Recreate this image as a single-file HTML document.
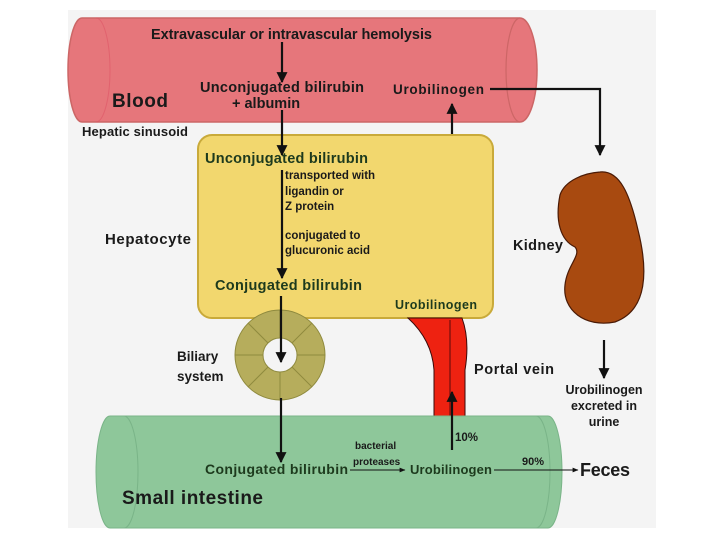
<!DOCTYPE html>
<html><head><meta charset="utf-8"><style>
html,body{margin:0;padding:0;background:#fff}
svg{display:block}
text{font-family:"Liberation Sans",sans-serif;font-weight:bold;fill:#1a1a1a}
.g{fill:#1d3a1d}
</style></head><body>
<svg width="720" height="540" viewBox="0 0 720 540" xmlns="http://www.w3.org/2000/svg">
<defs><marker id="a" viewBox="0 0 10 10" refX="9" refY="5" markerWidth="5" markerHeight="5" orient="auto"><path d="M0,0L10,5L0,10z" fill="#111"/></marker>
<marker id="s" viewBox="0 0 10 10" refX="9" refY="5" markerWidth="6" markerHeight="6" orient="auto"><path d="M0,1L10,5L0,9z" fill="#111"/></marker></defs>
<rect x="68" y="10" width="588" height="518" fill="#f4f4f4"/>
<path d="M82,18 H520 A17,52 0 0 1 520,122 H82 A14,52 0 0 1 82,18z" fill="#e6767b" stroke="#c66" stroke-width="1.5"/>
<path d="M520,18 A14,52 0 0 0 520,122" fill="none" stroke="#c66" stroke-width="1.2"/>
<path d="M96,18 A14,52 0 0 1 96,122" fill="none" stroke="#d56" stroke-width="1" opacity=".6"/>
<rect x="198" y="135" width="295" height="183" rx="14" fill="#f2d76e" stroke="#c9aa3a" stroke-width="2"/>
<path d="M408,318 H462 Q470,340 465,370 V418 H434 V370 Q432,340 408,318z" fill="#ee2211" stroke="#3a0a0a" stroke-width="1"/>
<line x1="450" y1="320" x2="450" y2="418" stroke="#5a0a0a" stroke-width="1"/>
<path d="M110,416 H548 A14,56 0 0 1 548,528 H110 A14,56 0 0 1 110,416z" fill="#8ec79a" stroke="#7ab488" stroke-width="1"/>
<path d="M124,416 A14,56 0 0 1 124,528" fill="none" stroke="#7ab488" stroke-width="1"/>
<path d="M536,416 A14,56 0 0 1 536,528" fill="none" stroke="#7ab488" stroke-width="1"/>
<circle cx="280" cy="355" r="31" fill="none" stroke="#b6ad5c" stroke-width="28"/>
<circle cx="280" cy="355" r="45" fill="none" stroke="#8f8a3e" stroke-width="1"/>
<circle cx="280" cy="355" r="17" fill="#f4f4f4" stroke="#8f8a3e" stroke-width="1"/>
<g stroke="#8f8a3e" stroke-width="1">
<line x1="280" y1="338" x2="280" y2="310"/><line x1="280" y1="372" x2="280" y2="400"/>
<line x1="263" y1="355" x2="235" y2="355"/><line x1="297" y1="355" x2="325" y2="355"/>
<line x1="292" y1="343" x2="312" y2="323"/><line x1="268" y1="343" x2="248" y2="323"/>
<line x1="292" y1="367" x2="312" y2="387"/><line x1="268" y1="367" x2="248" y2="387"/></g>
<path d="M600,172 C620,170 630,195 638,230 C648,270 648,310 615,322 C585,328 562,310 565,285 C567,265 582,255 575,247 C560,240 555,220 560,195 C565,180 585,173 600,172z" fill="#a84a10" stroke="#4a1a05" stroke-width="1.2"/>
<g stroke="#111" stroke-width="2.2" fill="none">
<line x1="282" y1="42" x2="282" y2="82" marker-end="url(#a)"/>
<line x1="282" y1="110" x2="282" y2="155" marker-end="url(#a)"/>
<line x1="282" y1="170" x2="282" y2="278" marker-end="url(#a)"/>
<line x1="281" y1="296" x2="281" y2="362" marker-end="url(#a)"/>
<line x1="281" y1="398" x2="281" y2="462" marker-end="url(#a)"/>
<line x1="452" y1="134" x2="452" y2="104" marker-end="url(#a)"/>
<polyline points="490,89 600,89 600,155" marker-end="url(#a)"/>
<line x1="604" y1="340" x2="604" y2="378" marker-end="url(#a)"/>
<line x1="452" y1="450" x2="452" y2="392" marker-end="url(#a)"/>
</g>
<g stroke="#111" stroke-width="1" fill="none">
<line x1="350" y1="470" x2="405" y2="470" marker-end="url(#s)"/>
<line x1="494" y1="470" x2="578" y2="470" marker-end="url(#s)"/>
</g>
<text x="151" y="39" font-size="14.5" textLength="281">Extravascular or intravascular hemolysis</text>
<text x="200" y="92" font-size="14.5" textLength="164">Unconjugated bilirubin</text>
<text x="232" y="108" font-size="14.5">+ albumin</text>
<text x="393" y="94" font-size="13.5" textLength="91">Urobilinogen</text>
<text x="112" y="107" font-size="19" textLength="56">Blood</text>
<text x="82" y="136" font-size="13" textLength="106">Hepatic sinusoid</text>
<text x="205" y="163" font-size="14.5" class="g" textLength="163">Unconjugated bilirubin</text>
<g font-size="11.5" font-weight="normal"><text x="285" y="179">transported with</text><text x="285" y="195">ligandin or</text><text x="285" y="210">Z protein</text>
<text x="285" y="239">conjugated to</text><text x="285" y="254">glucuronic acid</text></g>
<text x="105" y="244" font-size="15" textLength="86">Hepatocyte</text>
<text x="513" y="250" font-size="14.5" textLength="50">Kidney</text>
<text x="215" y="290" font-size="14.5" class="g" textLength="147">Conjugated bilirubin</text>
<text x="395" y="309" font-size="12.5" class="g" textLength="82">Urobilinogen</text>
<text x="177" y="361" font-size="13.5">Biliary</text>
<text x="177" y="381" font-size="13.5">system</text>
<text x="474" y="374" font-size="14.5" textLength="80">Portal vein</text>
<g font-size="12.5" text-anchor="middle"><text x="604" y="394">Urobilinogen</text><text x="604" y="410">excreted in</text><text x="604" y="426">urine</text></g>
<text x="455" y="441" font-size="11.5" font-weight="normal">10%</text>
<text x="355" y="449" font-size="10" font-weight="normal">bacterial</text>
<text x="353" y="465" font-size="10" font-weight="normal">proteases</text>
<text x="522" y="465" font-size="11" font-weight="normal">90%</text>
<text x="205" y="474" font-size="14" class="g" textLength="143">Conjugated bilirubin</text>
<text x="410" y="474" font-size="13" class="g" textLength="82">Urobilinogen</text>
<text x="580" y="476" font-size="18" textLength="50">Feces</text>
<text x="122" y="504" font-size="19" textLength="141">Small intestine</text>
</svg>
</body></html>
